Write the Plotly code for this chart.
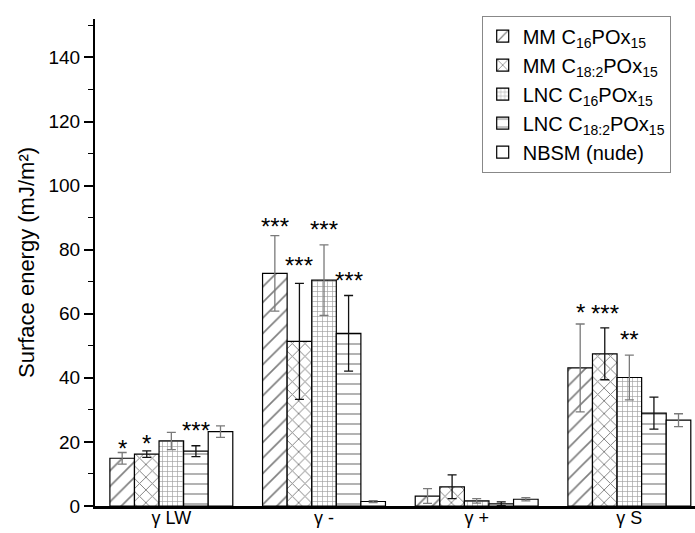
import plotly.graph_objects as go

# Surface energy components per formulation
components = ["γ LW", "γ -", "γ +", "γ S"]
series_names = [
    "MM C<sub>16</sub>POx<sub>15</sub>",
    "MM C<sub>18:2</sub>POx<sub>15</sub>",
    "LNC C<sub>16</sub>POx<sub>15</sub>",
    "LNC C<sub>18:2</sub>POx<sub>15</sub>",
    "NBSM (nude)",
]
mm_c16 = [14.9, 72.6, 3.1, 43.1]
mm_c16_err = [1.8, 11.8, 2.3, 13.7]
mm_c182 = [16.2, 51.4, 6.0, 47.5]
mm_c182_err = [1.0, 18.1, 3.7, 8.1]
lnc_c16 = [20.3, 70.5, 1.6, 40.1]
lnc_c16_err = [2.7, 11.0, 0.7, 7.0]
lnc_c182 = [17.1, 53.9, 0.7, 29.0]
lnc_c182_err = [1.7, 11.8, 0.6, 5.0]
nbsm = [23.2, 1.4, 2.1, 26.8]
nbsm_err = [1.8, 0.3, 0.5, 2.0]

# Significance marks: (component index, series index, text, height)
significance = [
    (0, 0, "*", 19.5), (0, 1, "*", 21.1), (0, 3, "***", 25.1),
    (1, 0, "***", 88.8), (1, 1, "***", 76.5), (1, 2, "***", 87.9), (1, 3, "***", 71.8),
    (3, 0, "*", 62.1), (3, 1, "***", 61.6), (3, 2, "**", 53.4),
]

values = [mm_c16, mm_c182, lnc_c16, lnc_c182, nbsm]
errors = [mm_c16_err, mm_c182_err, lnc_c16_err, lnc_c182_err, nbsm_err]
patterns = [
    dict(shape="/", size=11, solidity=0.15, fgcolor="black", bgcolor="white"),
    dict(shape="x", size=9, solidity=0.2, fgcolor="black", bgcolor="white"),
    dict(shape="+", size=5, solidity=0.25, fgcolor="#444", bgcolor="white"),
    dict(shape="-", size=10, solidity=0.15, fgcolor="#333", bgcolor="white"),
    dict(shape="", fgcolor="white", bgcolor="white"),
]
err_colors = ["#7a7a7a", "#111111", "#7a7a7a", "#111111", "#7a7a7a"]

bargap = 0.195
n = len(values)
xs = list(range(len(components)))

fig = go.Figure()
for i in range(n):
    fig.add_trace(go.Bar(
        x=xs, y=values[i], name=series_names[i],
        marker=dict(color="white", pattern=patterns[i],
                    line=dict(color="black", width=1.2)),
        error_y=dict(type="data", array=errors[i], visible=True,
                     color=err_colors[i], thickness=1.3, width=4.5),
    ))

bar_w = (1 - bargap) / n
for g, s, txt, h in significance:
    fig.add_annotation(
        x=xs[g] + (s - (n - 1) / 2) * bar_w, y=h, text=txt,
        showarrow=False, xanchor="center", yanchor="middle",
        yshift=-5, font=dict(size=24, color="black", family="Liberation Sans"),
    )

fig.update_layout(
    width=695, height=533,
    margin=dict(l=95, r=0, t=19, b=27),
    plot_bgcolor="white", paper_bgcolor="white",
    barmode="group", bargap=bargap, bargroupgap=0,
    font=dict(family="Liberation Sans", size=19, color="black"),
    showlegend=True,
    legend=dict(
        x=0.9595, y=1.007, xanchor="right", yanchor="top",
        bgcolor="white", bordercolor="#888", borderwidth=1,
        font=dict(size=20), tracegroupgap=0,
    ),
    xaxis=dict(
        range=[-0.5, 3.43], tickvals=xs, ticktext=components,
        showline=True, linecolor="black", linewidth=2.5,
        ticks="", showgrid=False, zeroline=False, automargin=False,
        ticklabelstandoff=-6,
        tickfont=dict(size=18),
    ),
    yaxis=dict(
        range=[0, 152], tickvals=[0, 20, 40, 60, 80, 100, 120, 140],
        showline=True, linecolor="black", linewidth=2,
        ticks="outside", ticklen=9, tickwidth=1.5, tickcolor="black",
        minor=dict(ticks="outside", ticklen=5, dtick=10, tickwidth=1.3,
                   tickcolor="black", showgrid=False),
        showgrid=False, zeroline=False, automargin=False,
        title=dict(text="Surface energy (mJ/m²)", font=dict(size=22), standoff=8),
        tickfont=dict(size=19),
    ),
)

fig.write_html("out.html")
